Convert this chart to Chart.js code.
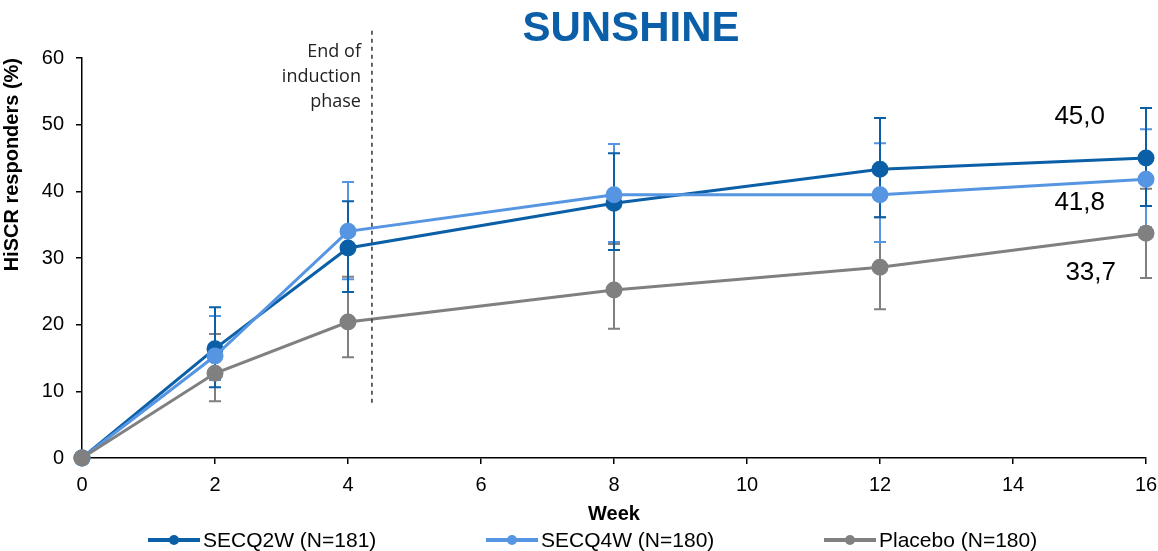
<!DOCTYPE html>
<html>
<head>
<meta charset="utf-8">
<script src="https://cdn.jsdelivr.net/npm/chart.js@4.4.1/dist/chart.umd.min.js"></script>
<style>
  html, body { margin: 0; padding: 0; background: #fff; }
  #wrap { width: 1158px; height: 551px; position: relative; }
</style>
</head>
<body>
<div id="wrap"><canvas id="chart"></canvas></div>
<script>
const weeks = [0, 2, 4, 8, 12, 16];
const xTicks = [0, 2, 4, 6, 8, 10, 12, 14, 16];
const yTicks = [0, 10, 20, 30, 40, 50, 60];

const q2wLabel = 'SECQ2W (N=181)';
const q2wValues = [0, 16.4, 31.5, 38.2, 43.3, 45.0];
const q2wLow    = [0, 10.6, 24.9, 31.2, 36.1, 37.8];
const q2wHigh   = [0, 22.6, 38.5, 45.7, 51.0, 52.5];

const q4wLabel = 'SECQ4W (N=180)';
const q4wValues = [0, 15.3, 34.0, 39.5, 39.5, 41.8];
const q4wLow    = [0, 11.7, 26.8, 32.4, 32.4, 34.6];
const q4wHigh   = [0, 21.3, 41.4, 47.1, 47.2, 49.3];

const pboLabel = 'Placebo (N=180)';
const pboValues = [0, 12.7, 20.4, 25.2, 28.6, 33.7];
const pboLow    = [0, 8.5, 15.1, 19.4, 22.3, 27.0];
const pboHigh   = [0, 18.6, 27.2, 32.1, 36.1, 40.4];

const endLabels = ['45,0', '41,8', '33,7'];
const inductionWeek = 4.36;

const DARK = '#0a5fa6';
const LIGHT = '#5595e2';
const GREY = '#808080';
const FONT = "'Liberation Sans', Arial, sans-serif";

function series(label, values, low, high, color, order, labelOffset) {
    return {
        label,
        data: weeks.map((w, i) => ({ x: w, y: values[i] })),
        low, high,
        borderColor: color,
        backgroundColor: color,
        pointBackgroundColor: color,
        pointBorderColor: color,
        borderWidth: 3,
        pointRadius: 7,
        pointHoverRadius: 7,
        tension: 0,
        clip: false,
        order,
        labelOffset
    };
}

// order: il placebo sta sopra (il punto a settimana 0 è grigio)
const datasets = [
    series(q2wLabel, q2wValues, q2wLow, q2wHigh, DARK, 3, { dx: -41, dy: -41, text: endLabels[0] }),
    series(q4wLabel, q4wValues, q4wLow, q4wHigh, LIGHT, 2, { dx: -41, dy: 23, text: endLabels[1] }),
    series(pboLabel, pboValues, pboLow, pboHigh, GREY, 1, { dx: -30, dy: 39, text: endLabels[2] })
];

// barre di errore: disegnate sotto linee e marker
const errorBars = {
    id: 'errorBars',
    beforeDatasetsDraw(chart) {
        const { ctx, scales: { x, y } } = chart;
        ctx.save();
        ctx.lineWidth = 2;
        [2, 1, 0].forEach(di => {
            const ds = chart.data.datasets[di];
            ctx.strokeStyle = ds.borderColor;
            ds.data.forEach((p, i) => {
                if (ds.low[i] === ds.high[i]) return;
                const px = x.getPixelForValue(p.x);
                const yl = y.getPixelForValue(ds.low[i]);
                const yh = y.getPixelForValue(ds.high[i]);
                ctx.beginPath();
                ctx.moveTo(px, yl); ctx.lineTo(px, yh);
                ctx.moveTo(px - 6, yl); ctx.lineTo(px + 6, yl);
                ctx.moveTo(px - 6, yh); ctx.lineTo(px + 6, yh);
                ctx.stroke();
            });
        });
        ctx.restore();
    }
};

// titolo, linea fine induzione, etichette finali, legenda
const extras = {
    id: 'extras',
    afterDraw(chart) {
        const { ctx, scales: { x, y } } = chart;
        ctx.save();

        // titolo
        ctx.fillStyle = '#0b5fa8';
        ctx.font = `bold 42px ${FONT}`;
        ctx.textAlign = 'center';
        ctx.textBaseline = 'middle';
        ctx.fillText('SUNSHINE', 631, 29);

        // linea tratteggiata fine induzione
        const lx = x.getPixelForValue(inductionWeek);
        ctx.strokeStyle = '#333';
        ctx.lineWidth = 1.5;
        ctx.setLineDash([4, 4]);
        ctx.beginPath();
        ctx.moveTo(lx, y.getPixelForValue(8.3));
        ctx.lineTo(lx, 28);
        ctx.stroke();
        ctx.setLineDash([]);

        ctx.fillStyle = '#222';
        ctx.font = "18px 'Open Sans', sans-serif";
        ctx.textAlign = 'right';
        ['End of', 'induction', 'phase'].forEach((t, i) => ctx.fillText(t, lx - 11, 52 + i * 25));

        // valori a settimana 16
        ctx.fillStyle = '#000';
        ctx.font = `26px ${FONT}`;
        chart.data.datasets.forEach(ds => {
            const last = ds.data[ds.data.length - 1];
            const o = ds.labelOffset;
            ctx.fillText(o.text, x.getPixelForValue(last.x) + o.dx, y.getPixelForValue(last.y) + o.dy);
        });

        // legenda
        ctx.font = `21px ${FONT}`;
        ctx.textAlign = 'left';
        chart.data.datasets.forEach((ds, i) => {
            const lx0 = 148 + i * 338;
            const ly = 540;
            ctx.strokeStyle = ds.borderColor;
            ctx.fillStyle = ds.borderColor;
            ctx.lineWidth = 4;
            ctx.beginPath();
            ctx.moveTo(lx0, ly); ctx.lineTo(lx0 + 52, ly);
            ctx.stroke();
            ctx.beginPath();
            ctx.arc(lx0 + 26, ly, 5, 0, Math.PI * 2);
            ctx.fill();
            ctx.fillStyle = '#000';
            ctx.fillText(ds.label, lx0 + 55, ly + 1);
        });
        ctx.restore();
    }
};

new Chart(document.getElementById('chart'), {
    type: 'line',
    data: { datasets },
    options: {
        responsive: true,
        maintainAspectRatio: false,
        animation: false,
        layout: { padding: { top: 58, right: 12, bottom: 25, left: 0 } },
        plugins: {
            legend: { display: false },
            tooltip: { enabled: false }
        },
        scales: {
            x: {
                type: 'linear',
                min: 0, max: 16,
                afterBuildTicks: s => { s.ticks = xTicks.map(v => ({ value: v })); },
                afterFit: s => { s.height = 68; s.paddingLeft = 0; s.paddingRight = 0; },
                grid: { drawOnChartArea: false, drawTicks: true, tickLength: 6, color: '#000', lineWidth: 1.5 },
                border: { color: '#000', width: 1.5 },
                ticks: { color: '#000', font: { family: FONT, size: 20 }, padding: 9 },
                title: { display: true, text: 'Week', color: '#000', font: { family: FONT, size: 20, weight: 'bold' }, padding: { top: 0, bottom: 0 } }
            },
            y: {
                min: 0, max: 60,
                afterBuildTicks: s => { s.ticks = yTicks.map(v => ({ value: v })); },
                afterFit: s => { s.width = 82; },
                grid: { drawOnChartArea: false, drawTicks: true, tickLength: 6, color: '#000', lineWidth: 1.5 },
                border: { color: '#000', width: 1.5 },
                ticks: { color: '#000', font: { family: FONT, size: 20 }, padding: 12 },
                title: { display: true, text: 'HiSCR responders (%)', align: 'end', color: '#000', font: { family: FONT, size: 20, weight: 'bold' }, padding: { top: 0, bottom: 2 } }
            }
        }
    },
    plugins: [errorBars, extras]
});
</script>
</body>
</html>
